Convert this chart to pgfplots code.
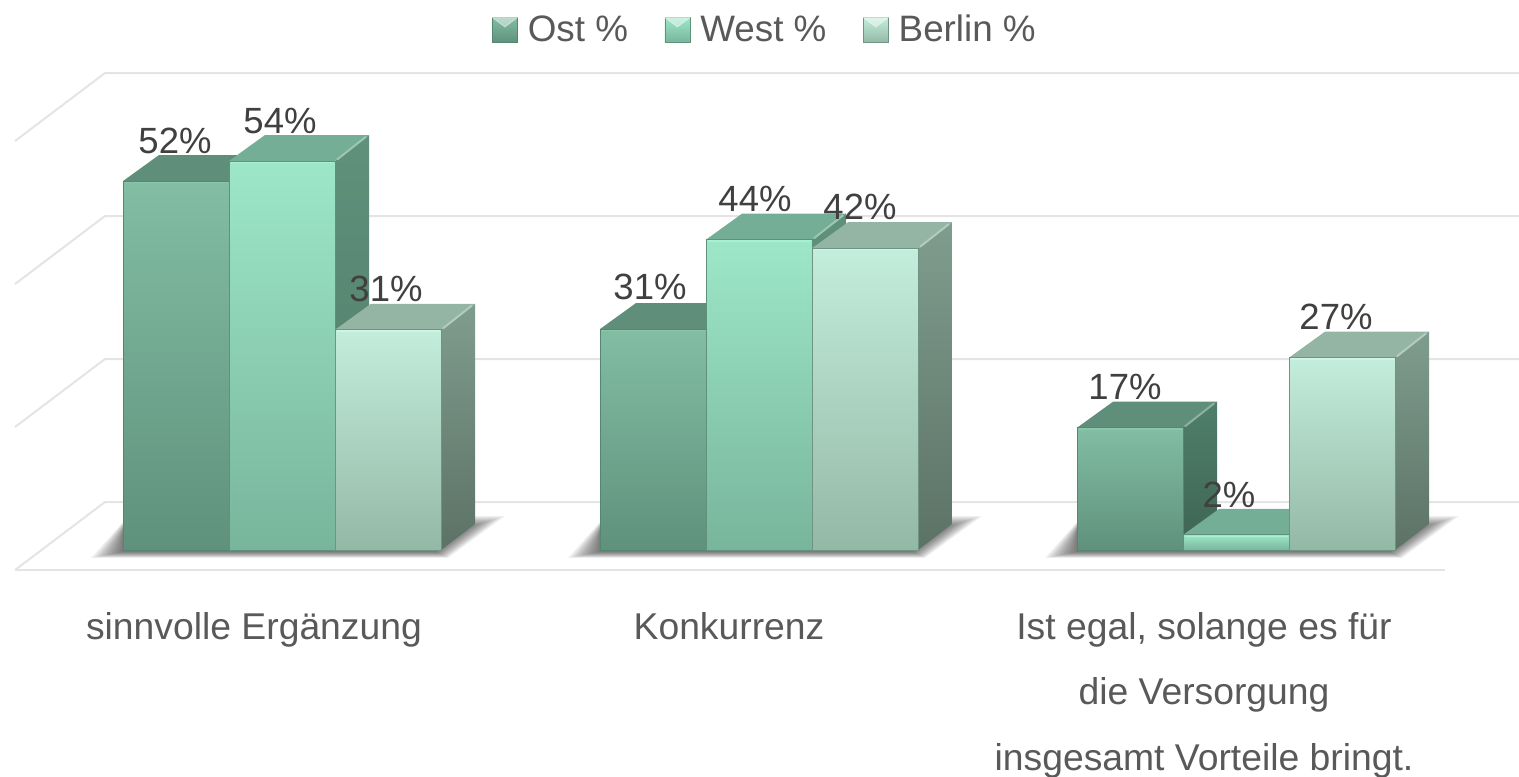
\documentclass[border=0pt]{standalone}
\usepackage{pgfplots}
\pgfplotsset{compat=1.18}
\usepackage{fontspec}
\setmainfont{Liberation Sans}
\definecolor{gridc}{HTML}{E4E4E4}
\definecolor{catc}{HTML}{595959}
\definecolor{lab}{HTML}{404040}
\definecolor{ostFT}{HTML}{82BDA4}\definecolor{ostFB}{HTML}{5F917C}\definecolor{ostTop}{HTML}{5F8F7A}\definecolor{ostST}{HTML}{4F7F6B}\definecolor{ostSB}{HTML}{3F6454}\definecolor{ostL}{HTML}{8AC6AC}\definecolor{ostE}{HTML}{558672}
\definecolor{wesFT}{HTML}{9DE7C8}\definecolor{wesFB}{HTML}{78B59C}\definecolor{wesTop}{HTML}{74AE96}\definecolor{wesST}{HTML}{5F917B}\definecolor{wesSB}{HTML}{4F7A68}\definecolor{wesL}{HTML}{A8F0D2}\definecolor{wesE}{HTML}{5F917C}
\definecolor{berFT}{HTML}{C3EDDC}\definecolor{berFB}{HTML}{94B8A6}\definecolor{berTop}{HTML}{94B5A3}\definecolor{berST}{HTML}{7F9D8E}\definecolor{berSB}{HTML}{5C7266}\definecolor{berL}{HTML}{CFF5E5}\definecolor{berE}{HTML}{6F9483}
% #1 left edge (px), #2 value, #3 colour prefix
\newcommand\drawbar[3]{%
  \addplot[forget plot,draw=none,top color=#3ST,bottom color=#3SB] coordinates {(#1+106,0) (#1+140,3.64) (#1+140,#2+3.64) (#1+106,#2)} --cycle;
  \addplot[forget plot,draw=none,fill=#3Top] coordinates {(#1,#2) (#1+36,#2+3.64) (#1+140,#2+3.64) (#1+106,#2)} --cycle;
  \addplot[forget plot,draw=#3Top!70!white,line width=1pt] coordinates {(#1+108,#2+0.2) (#1+137,#2+3.4)};
  \addplot[forget plot,draw=#3E,line width=0.5pt,top color=#3FT,bottom color=#3FB] coordinates {(#1,0) (#1,#2) (#1+106,#2) (#1+106,0)} --cycle;
  \addplot[forget plot,draw=#3L,line width=0.8pt] coordinates {(#1+1.5,#2-0.2) (#1+104.5,#2-0.2)};
}
% #1 left edge of the group, #2 inset
\newcommand\shadowlayer[2]{%
  \addplot[forget plot,draw=none,fill=black,fill opacity=0.055] coordinates {(#1-32+2.6*#2,-1.1+0.07*#2) (#1+325-1.0*#2,-1.1+0.07*#2) (#1+382-3.0*#2,4.75-0.13*#2) (#1+317,4.75-0.13*#2) (#1,3.9-0.1*#2)} --cycle;
}
\newcommand\shadowgroup[1]{\shadowlayer{#1}{0}\shadowlayer{#1}{1}\shadowlayer{#1}{2}\shadowlayer{#1}{3}\shadowlayer{#1}{4}\shadowlayer{#1}{5}\shadowlayer{#1}{6}\shadowlayer{#1}{7}\shadowlayer{#1}{8}\shadowlayer{#1}{9}\shadowlayer{#1}{10}\shadowlayer{#1}{11}\shadowlayer{#1}{12}}
\newcommand\swatch[2]{\addlegendimage{legend image code/.code={%
  \shade[top color=#1FT,bottom color=#1FB,draw=#1E,line width=0.3pt] (0pt,-6.25pt) rectangle (12.5pt,6.25pt);
  \fill[white,opacity=0.45] (0pt,6.25pt)--(12.5pt,6.25pt)--(6.25pt,1.5pt)--cycle;
}}\addlegendentry{#2}}
\begin{document}
\begin{tikzpicture}
\useasboundingbox (0,0) rectangle (759.5pt,388pt);
\begin{axis}[
  at={(0pt,88pt)},anchor=south west,scale only axis,
  width=759.5pt,height=300pt,
  xmin=0,xmax=1519,ymin=-6.993,ymax=76.923,
  clip=false,
  axis line style={draw=none},
  major tick length=0pt,
  ytick=\empty,
  xtick={254,729,1204},
  xticklabels={{\rule{0pt}{13pt}sinnvolle Ergänzung},{\rule{0pt}{13pt}Konkurrenz},{\rule{0pt}{13pt}Ist egal, solange es für\\die Versorgung\\insgesamt Vorteile bringt.}},
  xticklabel style={align=center,anchor=north,yshift=-6pt,text=catc,
    font=\fontsize{18.65}{32.75}\selectfont,inner sep=0pt},
  legend columns=3,
  legend style={at={(0.5042,0.9500)},anchor=center,draw=none,fill=none,
    font=\fontsize{18.4}{20}\selectfont,text=catc,
    /tikz/every even column/.append style={column sep=16.25pt},
    /tikz/every odd column/.append style={column sep=3pt},inner sep=0pt},
  legend cell align=left,
]
% back wall and floor lines
\addplot[forget plot,draw=gridc,line width=1pt] coordinates {(15,-2.8) (105,6.71) (1519,6.71)};
\addplot[forget plot,draw=gridc,line width=1pt] coordinates {(15,17.2) (105,26.71) (1519,26.71)};
\addplot[forget plot,draw=gridc,line width=1pt] coordinates {(15,37.2) (105,46.71) (1519,46.71)};
\addplot[forget plot,draw=gridc,line width=1pt] coordinates {(15,57.2) (105,66.71) (1519,66.71)};
\addplot[forget plot,draw=gridc,line width=1pt] coordinates {(15,-2.8) (1445,-2.8)};
\shadowgroup{123}\shadowgroup{600}\shadowgroup{1077}
% bars: left edge in px, measured height in %
\drawbar{123}{51.6}{ost}\drawbar{229}{54.4}{wes}\drawbar{335}{30.8}{ber}
\drawbar{600}{30.9}{ost}\drawbar{706}{43.4}{wes}\drawbar{812}{42.2}{ber}
\drawbar{1077}{17.1}{ost}\drawbar{1183}{2.1}{wes}\drawbar{1289}{26.9}{ber}
% data labels
\addplot[forget plot,draw=none,point meta=explicit symbolic,nodes near coords,
  every node near coord/.style={anchor=base,inner sep=0pt,text=lab,
    font=\fontsize{18.25}{20}\selectfont}]
 coordinates {
  (175,55.5)[52\%] (280,58.2)[54\%] (386,34.7)[31\%]
  (650,35.0)[31\%] (755,47.3)[44\%] (860,46.2)[42\%]
  (1125,21.0)[17\%] (1229,6.0)[2\%] (1336,30.8)[27\%]};
\swatch{ost}{Ost \%}
\swatch{wes}{West \%}
\swatch{ber}{Berlin \%}
\end{axis}
\end{tikzpicture}
\end{document}
